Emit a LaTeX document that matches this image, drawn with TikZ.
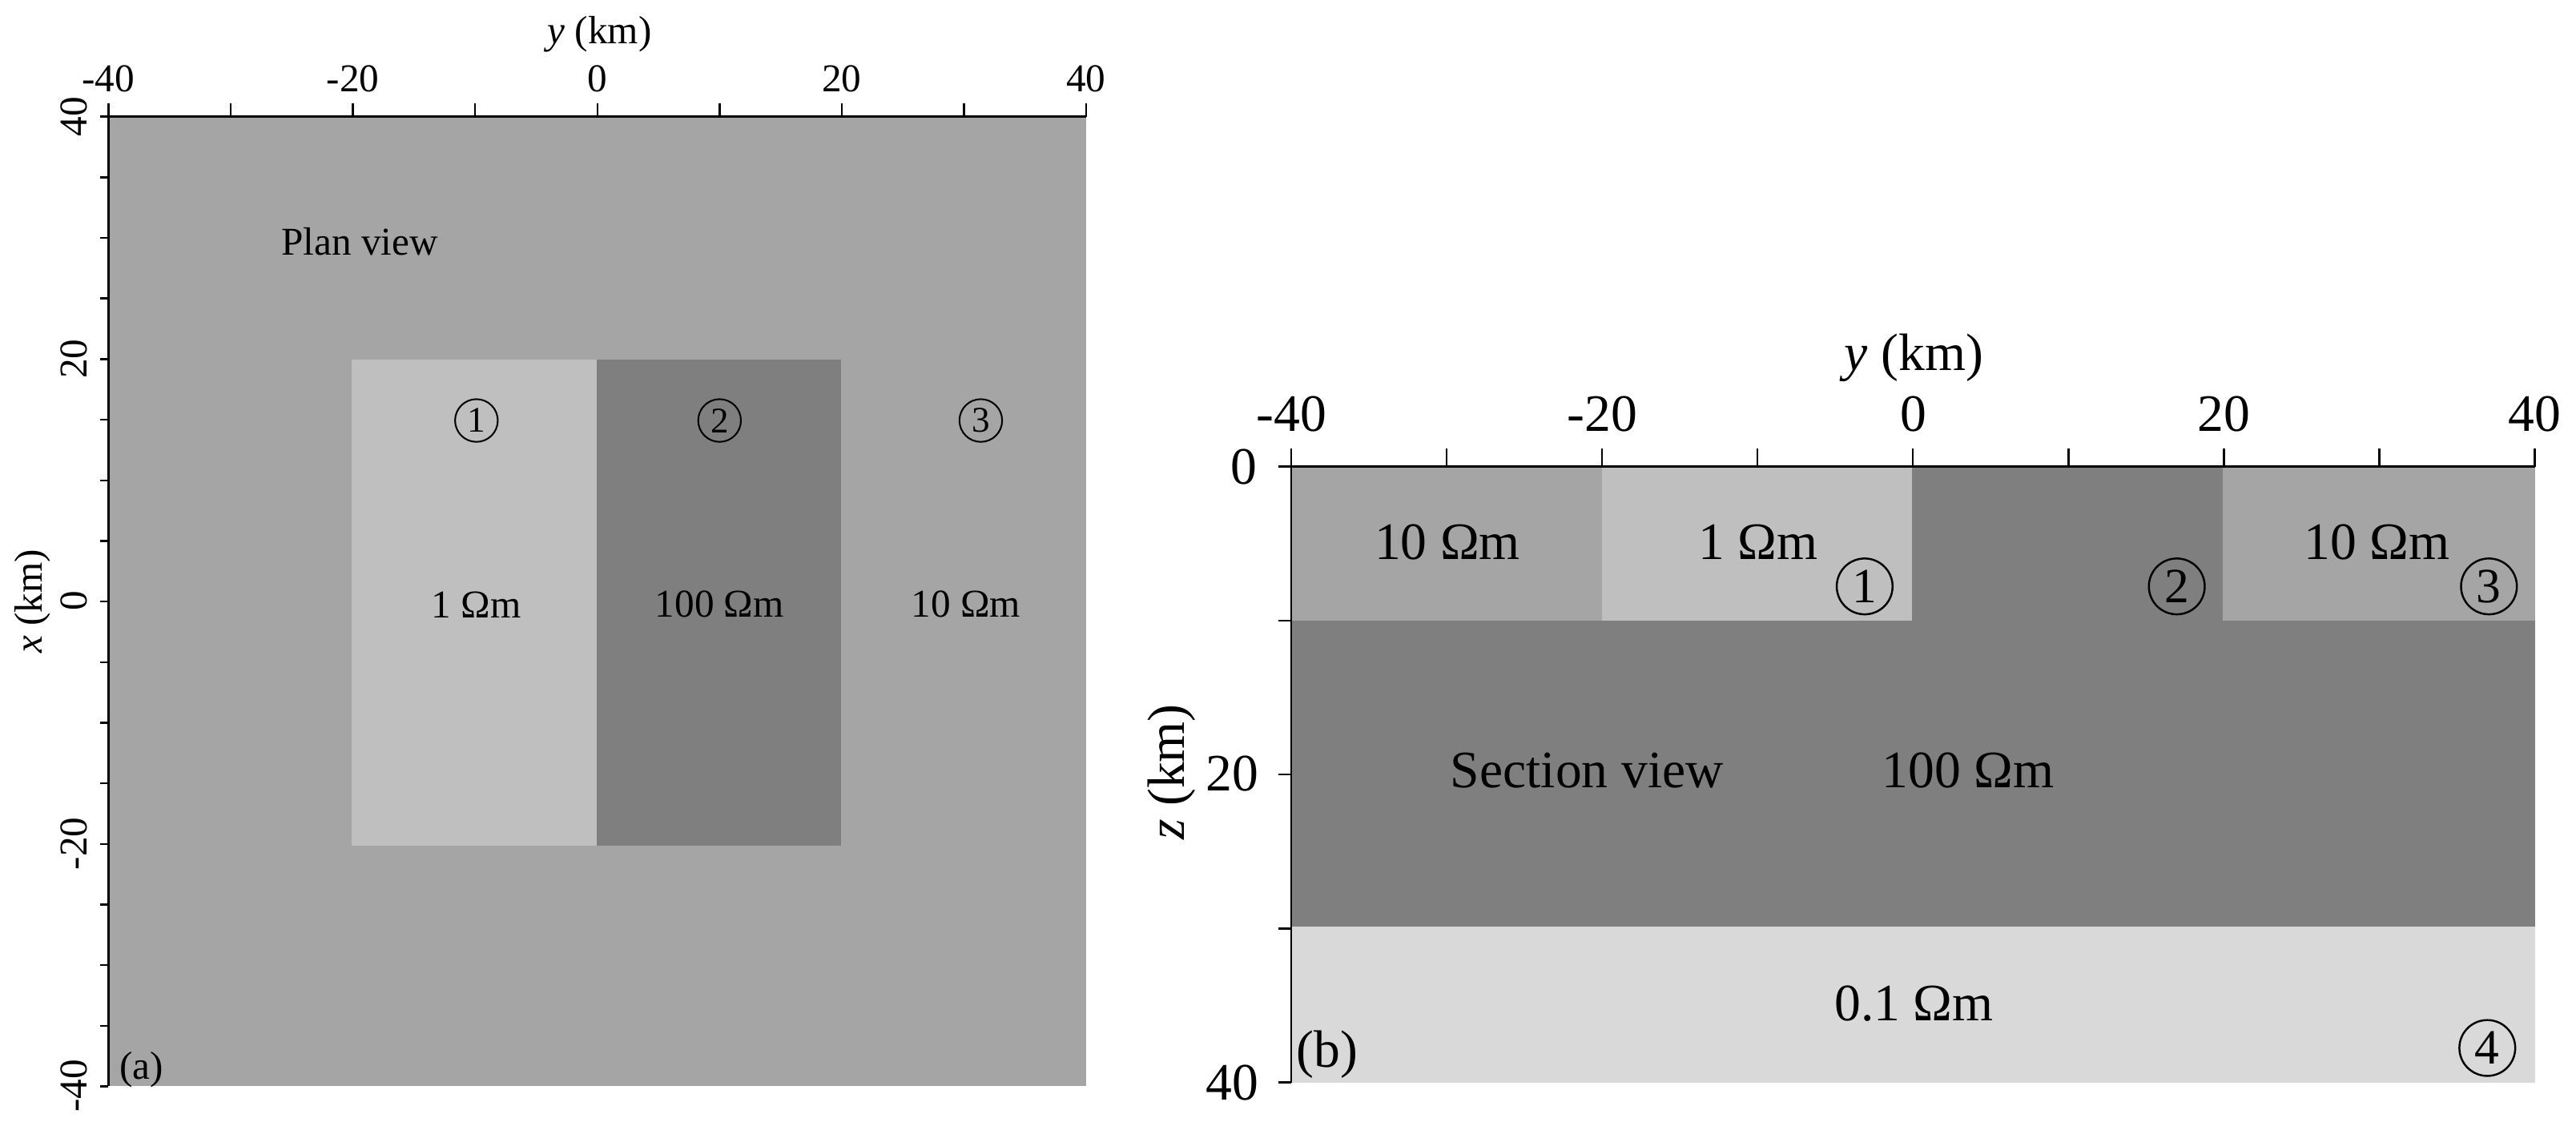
\documentclass[tikz,border=0pt]{standalone}
\usepackage{fontspec}
\setmainfont{Liberation Serif}
\begin{document}
\begin{tikzpicture}[x=1pt,y=-1pt,
  ta/.style={font=\fontsize{24}{26}\selectfont},
  tb/.style={font=\fontsize{32}{34}\selectfont},
  cnum/.style={circle,draw,line width=1pt,inner sep=0pt,minimum size=26pt,font=\fontsize{22}{24}\selectfont},
  cnumb/.style={circle,draw,line width=1.2pt,inner sep=0pt,minimum size=34pt,font=\fontsize{30}{32}\selectfont},
  ax/.style={line width=1.2pt}]
\definecolor{gm}{HTML}{A5A5A5}\definecolor{gl}{HTML}{BFBFBF}
\definecolor{gd}{HTML}{7F7F7F}\definecolor{gx}{HTML}{D9D9D9}
\useasboundingbox (0,0) rectangle (1568,683);
% panel a
\fill[gm] (66,71) rectangle (661,661);
\fill[gl] (214,219) rectangle (363,515);
\fill[gd] (363,219) rectangle (512,515);
\draw[ax] (66,661) -- (66,71) -- (661,71);
\foreach \i in {0,...,8} {\draw[ax] (66+74.4*\i,71) -- ++(0,-8);}
\foreach \i in {0,...,16} {\draw[ax] (66,71+36.9*\i) -- ++(-5,0);}
\foreach \v [count=\i from 0] in {-40,-20,0,20,40} {
  \node[ta] (ta\i) at (66+148.75*\i,48) {\v};
  \node[ta,rotate=90] (la\i) at (45,71+147.5*\i) {\ifnum\i=4 -40\else\ifnum\i=3 -20\else\ifnum\i=2 0\else\ifnum\i=1 20\else 40\fi\fi\fi\fi};}
\node[ta] (ya) at (365,21) {\textit{y} (km)};
\node[ta,rotate=90] (xa) at (20,366) {\textit{x} (km)};
\node[ta] (pv) at (219,147) {Plan view};
\node[cnum] (c1) at (290,256) {1};
\node[cnum] (c2) at (438,256) {2};
\node[cnum] (c3) at (597,256) {3};
\node[ta] (r1) at (290,368) {1 Ωm};
\node[ta] (r2) at (438,368) {100 Ωm};
\node[ta] (r3) at (588,368) {10 Ωm};
\node[ta] (la) at (86,651) {(a)};
% panel b
\fill[gm] (786,284) rectangle (975,378);
\fill[gl] (975,284) rectangle (1164,378);
\fill[gd] (1164,284) rectangle (1353,378);
\fill[gm] (1353,284) rectangle (1543,378);
\fill[gd] (786,378) rectangle (1543,564);
\fill[gx] (786,564) rectangle (1543,659);
\draw[ax] (786,659) -- (786,284) -- (1543,284);
\foreach \i in {0,...,8} {\draw[ax] (786+94.6*\i,284) -- ++(0,-11);}
\foreach \i in {0,...,4} {\draw[ax] (786,284+93.75*\i) -- ++(-8,0);}
\foreach \v [count=\i from 0] in {-40,-20,0,20,40} {\node[tb] (tb\i) at (786+189.25*\i,252) {\v};}
\node[tb] (lb0) at (757,284) {0};
\node[tb] (lb1) at (750,471) {20};
\node[tb] (lb2) at (750,659) {40};
\node[tb] (yb) at (1165,218) {\textit{y} (km)};
\node[tb,rotate=90] (zb) at (713,470) {\textit{z} (km)};
\node[tb] (s1) at (881,330) {10 Ωm};
\node[tb] (s2) at (1070,330) {1 Ωm};
\node[tb] (s3) at (1447,330) {10 Ωm};
\node[cnumb] (d1) at (1135,357) {1};
\node[cnumb] (d2) at (1325,357) {2};
\node[cnumb] (d3) at (1515,357) {3};
\node[cnumb] (d4) at (1514,638) {4};
\node[tb] (sv) at (966,469) {Section view};
\node[tb] (s4) at (1198,469) {100 Ωm};
\node[tb] (s5) at (1165,611) {0.1 Ωm};
\node[tb] (lb) at (808,642) {(b)};
\end{tikzpicture}
\end{document}
